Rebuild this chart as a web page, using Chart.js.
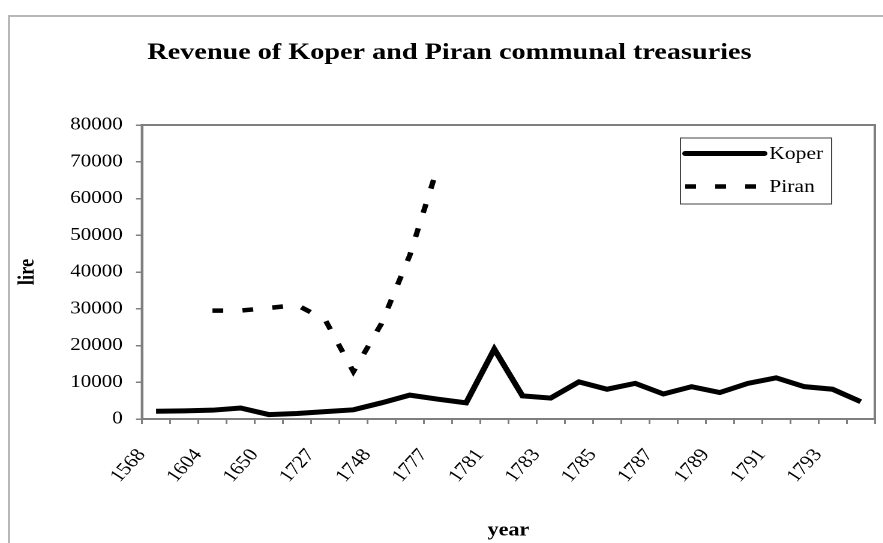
<!DOCTYPE html>
<html>
<head>
<meta charset="utf-8">
<script src="https://cdn.jsdelivr.net/npm/chart.js@4.4.1/dist/chart.umd.min.js"></script>
<style>
  html, body { margin: 0; padding: 0; background: #fff; overflow: hidden; }
  .frame {
    position: absolute; left: 8px; top: 15px; width: 900px; height: 600px;
    border-top: 2px solid #b8b8b8; border-left: 2px solid #b8b8b8;
  }
  /* the source picture is stretched sideways, so the canvas is too */
  #chart {
    position: absolute; left: 0; top: 0;
    transform-origin: 0 0; transform: scaleX(1.2);
  }
</style>
</head>
<body>
<div class="frame"></div>
<canvas id="chart" width="736" height="543"></canvas>
<script>
// x categories: only every other one carries a label in the source
const yearLabels = [
  "1568", "", "1604", "", "1650", "", "1727", "", "1748", "", "1777", "", "1781",
  "", "1783", "", "1785", "", "1787", "", "1789", "", "1791", "", "1793", ""
]

const koper = [
  2100, 2200, 2400, 3000, 1200, 1500, 2000, 2500, 4400, 6500, 5400, 4400, 19000,
  6300, 5700, 10100, 8100, 9700, 6800, 8800, 7200, 9700, 11200, 8800, 8100, 4700
]

const piran = [
  null, null, 29500, 29500, 30200, 31000, 27000, 12900, 26000, 44500, 68800, null, null,
  null, null, null, null, null, null, null, null, null, null, null, null, null
]

const yTicks = [0, 10000, 20000, 30000, 40000, 50000, 60000, 70000, 80000]

const serif = '"Liberation Serif", "Times New Roman", serif'
const axisGray = "#7f7f7f"

// gray box round the plot area
const plotFrame = {
  id: "plotFrame",
  beforeDatasetsDraw(chart) {
    const { ctx, chartArea: a } = chart
    ctx.save()
    ctx.strokeStyle = axisGray
    ctx.lineWidth = 2
    ctx.strokeRect(a.left, a.top, a.right - a.left, a.bottom - a.top)
    ctx.restore()
  }
}

// boxed legend inside the plot, top right, like the Excel original
const boxedLegend = {
  id: "boxedLegend",
  afterDatasetsDraw(chart) {
    const { ctx, chartArea: a } = chart
    const w = 126, h = 66
    const x = a.right - 36 - w
    const y = a.top + 13
    ctx.save()
    ctx.fillStyle = "#fff"
    ctx.fillRect(x, y, w, h)
    ctx.strokeStyle = "#444"
    ctx.lineWidth = 1
    ctx.strokeRect(x, y, w, h)
    chart.data.datasets.forEach((ds, i) => {
      const ly = y + 15.5 + i * 33
      ctx.beginPath()
      ctx.setLineDash(ds.borderDash || [])
      ctx.lineWidth = ds.borderWidth
      ctx.strokeStyle = ds.borderColor
      ctx.lineCap = ds.borderDash ? "butt" : "round"
      ctx.moveTo(x + 4, ly)
      ctx.lineTo(x + 70, ly)
      ctx.stroke()
      ctx.setLineDash([])
      ctx.fillStyle = "#000"
      ctx.font = "18px " + serif
      ctx.textBaseline = "middle"
      ctx.textAlign = "left"
      ctx.fillText(ds.label, x + 74, ly + 1)
    })
    ctx.restore()
  }
}

new Chart(document.getElementById("chart"), {
  type: "line",
  data: {
    labels: yearLabels,
    datasets: [
      {
        label: "Koper",
        data: koper,
        borderColor: "#000",
        borderWidth: 5,
        borderJoinStyle: "miter",
        pointRadius: 0,
        tension: 0
      },
      {
        label: "Piran",
        data: piran,
        borderColor: "#000",
        borderWidth: 4.5,
        borderDash: [9, 16],
        borderCapStyle: "butt",
        pointRadius: 0,
        tension: 0
      }
    ]
  },
  options: {
    responsive: false,
    animation: false,
    devicePixelRatio: 2,
    layout: { padding: { left: 20, right: 7, top: 0, bottom: 0 } },
    scales: {
      x: {
        offset: true,
        grid: { offset: true, drawOnChartArea: false, tickLength: 5, color: axisGray, lineWidth: 1.5 },
        border: { color: axisGray, width: 2 },
        ticks: {
          autoSkip: false,
          minRotation: 52,
          maxRotation: 52,
          padding: 21,
          labelOffset: -12,
          color: "#000",
          font: { family: serif, size: 18 }
        },
        title: {
          display: true,
          text: "year",
          color: "#000",
          font: { family: serif, size: 18.5, weight: "bold" },
          padding: { top: 0, bottom: 1 }
        },
        afterFit: (scale) => {
          scale.height = 124
          // rotated labels would otherwise push the plot in from the right
          scale.paddingLeft = 0
          scale.paddingRight = 0
        }
      },
      y: {
        min: 0,
        max: 80000,
        afterBuildTicks: (scale) => { scale.ticks = yTicks.map((v) => ({ value: v })) },
        grid: { drawOnChartArea: false, tickLength: 5, color: axisGray, lineWidth: 1.5 },
        border: { color: axisGray, width: 2 },
        ticks: {
          padding: 11,
          color: "#000",
          font: { family: serif, size: 17.5 },
          callback: (v) => String(v)
        },
        title: {
          display: true,
          text: "lire",
          color: "#000",
          font: { family: serif, size: 18.5, weight: "bold" },
          padding: { top: -8, bottom: 0 }
        },
        afterFit: (scale) => { scale.width = 98.3 }
      }
    },
    plugins: {
      legend: { display: false },
      tooltip: { enabled: false },
      title: {
        display: true,
        text: "Revenue of Koper and Piran communal treasuries",
        color: "#000",
        font: { family: serif, size: 23.5, weight: "bold" },
        padding: { top: 39, bottom: 57.8 }
      }
    }
  },
  plugins: [plotFrame, boxedLegend]
})
</script>
</body>
</html>
